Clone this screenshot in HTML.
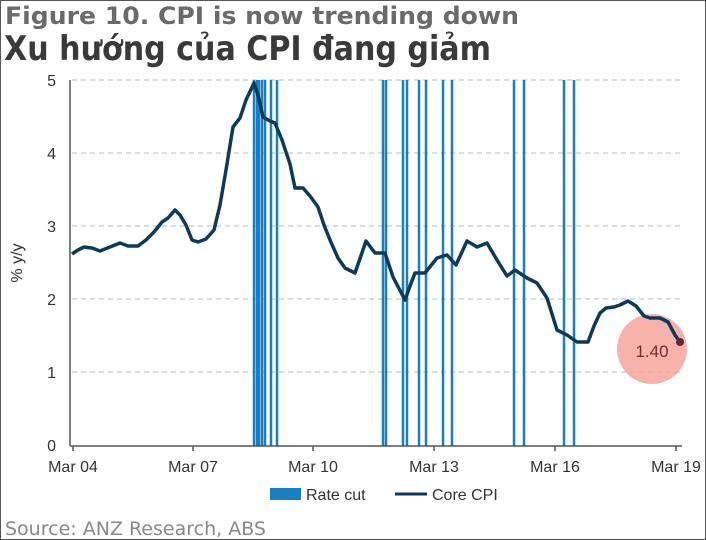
<!DOCTYPE html>
<html><head><meta charset="utf-8"><style>
body{margin:0;background:#fff;}
svg{display:block;font-family:"Liberation Sans","DejaVu Sans",sans-serif;}
</style></head><body>
<svg width="706" height="540" viewBox="0 0 706 540" xmlns="http://www.w3.org/2000/svg">
<rect x="0.5" y="0.5" width="705" height="539" fill="#fff" stroke="#555" stroke-width="1"/>
<text x="5" y="24" font-size="24" font-weight="bold" fill="#6a6a6a" font-family="DejaVu Sans, sans-serif" textLength="514" lengthAdjust="spacingAndGlyphs">Figure 10. CPI is now trending down</text>
<text x="4" y="60" font-size="34" font-weight="bold" fill="#3a3a3a" font-family="'Liberation Sans Narrow','DejaVu Sans Condensed',sans-serif" textLength="487" lengthAdjust="spacingAndGlyphs">Xu hướng của CPI đang giảm</text>
<g stroke="#c8d3dc" stroke-dasharray="5,4" stroke-width="1.5">
<line x1="72" y1="80" x2="680" y2="80"/><line x1="72" y1="153" x2="680" y2="153"/><line x1="72" y1="226" x2="680" y2="226"/><line x1="72" y1="299" x2="680" y2="299"/><line x1="72" y1="372" x2="680" y2="372"/>
</g>
<g stroke="#1a7fc1" stroke-width="2.5">
<line x1="254" y1="80" x2="254" y2="446"/><line x1="257" y1="80" x2="257" y2="446"/><line x1="259" y1="80" x2="259" y2="446"/><line x1="262" y1="80" x2="262" y2="446"/><line x1="265" y1="80" x2="265" y2="446"/><line x1="271" y1="80" x2="271" y2="446"/><line x1="277" y1="80" x2="277" y2="446"/>
<line x1="383" y1="80" x2="383" y2="446"/><line x1="386" y1="80" x2="386" y2="446"/><line x1="403" y1="80" x2="403" y2="446"/><line x1="407" y1="80" x2="407" y2="446"/><line x1="419" y1="80" x2="419" y2="446"/><line x1="426" y1="80" x2="426" y2="446"/><line x1="443" y1="80" x2="443" y2="446"/><line x1="452" y1="80" x2="452" y2="446"/>
<line x1="514" y1="80" x2="514" y2="446"/><line x1="524" y1="80" x2="524" y2="446"/><line x1="564" y1="80" x2="564" y2="446"/><line x1="574" y1="80" x2="574" y2="446"/>
</g>
<circle cx="652" cy="349" r="35" fill="#f5a49c" opacity="0.85"/>
<polyline fill="none" stroke="#0e3a5a" stroke-width="3.5" stroke-linejoin="round" points="72,254 78,250 84,247 92,248 100,251 110,247 120,243 128,246 138,246 146,240 154,232 162,222 168,218 175,210 180,215 186,225 192,240 198,242 206,239 214,230 220,205 226,170 233,127 240,118 246,100 254,83 258,95 263,117 270,121 275,123 282,140 290,164 295,188 303,188 310,196 318,207 324,225 330,240 338,258 345,268 355,273 366,241 375,253 385,253 393,277 405,300 410,286 415,273 425,273 437,258 447,255 456,265 467,241 477,247 487,243 497,260 507,276 515,270 527,278 537,283 547,298 557,330 567,335 577,342 588,342 594,326 600,313 606,308 614,307 620,305 628,301 636,306 644,316 650,318 660,318 668,322 675,335 680,342"/>
<circle cx="680" cy="342" r="4" fill="#5a2a3a"/>
<text x="652" y="357" font-size="17" fill="#7a2a2a" text-anchor="middle">1.40</text>
<line x1="70" y1="80" x2="70" y2="446" stroke="#555" stroke-width="1.5"/>
<line x1="70" y1="446" x2="682" y2="446" stroke="#555" stroke-width="1.5"/>
<g stroke="#555" stroke-width="1.5">
<line x1="73" y1="446" x2="73" y2="451"/><line x1="193" y1="446" x2="193" y2="451"/><line x1="313" y1="446" x2="313" y2="451"/><line x1="434" y1="446" x2="434" y2="451"/><line x1="555" y1="446" x2="555" y2="451"/><line x1="676" y1="446" x2="676" y2="451"/>
</g>
<g font-size="16" fill="#333" text-anchor="end">
<text x="56" y="86">5</text><text x="56" y="159">4</text><text x="56" y="232">3</text><text x="56" y="305">2</text><text x="56" y="378">1</text><text x="56" y="451">0</text>
</g>
<g font-size="16" fill="#333" text-anchor="middle">
<text x="73" y="472">Mar 04</text><text x="193" y="472">Mar 07</text><text x="313" y="472">Mar 10</text><text x="434" y="472">Mar 13</text><text x="555" y="472">Mar 16</text><text x="676" y="472">Mar 19</text>
</g>
<text transform="translate(22,263) rotate(-90)" font-size="16" fill="#333" text-anchor="middle">% y/y</text>
<rect x="270" y="488" width="31" height="12" fill="#1a7fc1"/>
<text x="306" y="500" font-size="16" fill="#333">Rate cut</text>
<line x1="395" y1="494" x2="427" y2="494" stroke="#0e3a5a" stroke-width="3"/>
<text x="432" y="500" font-size="16" fill="#333">Core CPI</text>
<text x="5" y="535" font-size="19" fill="#888" font-family="DejaVu Sans, sans-serif">Source: ANZ Research, ABS</text>
</svg>
</body></html>
